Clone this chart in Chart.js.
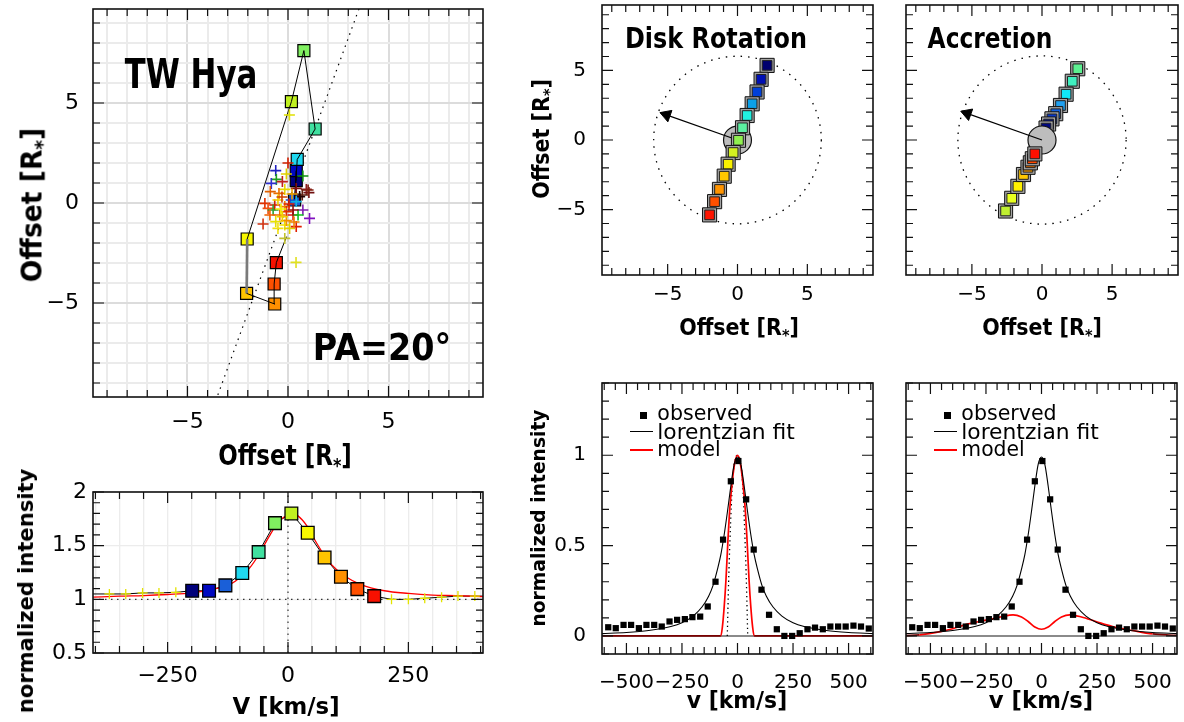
<!DOCTYPE html>
<html>
<head>
<meta charset="utf-8">
<title>TW Hya photocentre offsets</title>
<script src="https://cdn.jsdelivr.net/npm/chart.js@4.4.1/dist/chart.umd.min.js"></script>
<style>
  html, body { margin: 0; padding: 0; background: #fff; }
  body { width: 1184px; height: 722px; position: relative; overflow: hidden; font-family: "DejaVu Sans", sans-serif; }
  .pane { position: absolute; }
  .pane canvas { display: block; }
  .txt { position: absolute; white-space: nowrap; line-height: 1; color: #000; }
  .sb { font-size: 0.7em; position: relative; top: 0.35em; }
  .mk { position: absolute; }
</style>
</head>
<body>
<script>
// TW Hya: photocentre offsets [R*], squares in velocity order
const twSqX = [0.41, 0.41, 0.33, 0.46, 1.35, 0.79, 0.17, -2.03, -2.06, -0.66, -0.69, -0.58];
const twSqY = [1.12, 1.62, 0.15, 2.18, 3.70, 7.62, 5.07, -1.80, -4.52, -5.05, -4.05, -2.98];
const twSqColors = ['#00007a', '#0008c0', '#1a5fd8', '#20d8f0', '#40e0a0', '#80f060', '#c0f020', '#f8f800', '#ffc400', '#ff9000', '#ff5000', '#f81000'];
const twTailX = [-0.07];
const twTailY = [-1.68];
const twCrossX = [0.00, -0.61, -0.08, -0.58, -0.83, -0.28, -0.88, -0.16, 0.41, 0.91, 1.04, 0.71, 0.58, -0.45, -1.15, -0.99, -0.66, -0.50, 0.16, 0.41, -0.16, 0.05, 0.74, 1.07, -1.24, -0.61, -0.41, 0.25, 0.50, -0.16, 0.08, 0.41, -0.50, -0.08, -0.16, -0.08, -0.28, -0.74, 0.25, 0.07, 0.40, 0.74, 1.00, -0.30, 0.20, -0.90, -0.35, 0.30];
const twCrossY = [2.00, 1.62, 1.45, 1.18, 0.98, 1.07, 0.57, 0.68, 0.73, 0.68, 0.52, 0.40, 0.32, 0.48, -0.02, -0.27, -0.10, 0.15, 0.15, 0.07, -0.18, -0.05, -0.35, -0.77, -1.05, -0.93, -0.60, -0.60, -0.60, -1.10, -1.27, -1.18, -1.27, -0.88, -1.77, -0.43, -0.68, -0.35, -0.35, 4.40, -2.97, 1.35, 0.65, 0.30, 0.45, -0.60, -0.30, -0.95];
const twCrossColors = ['#d02000', '#2020c0', '#e0d000', '#20a020', '#3030d0', '#c02020', '#e06000', '#e8d800', '#801010', '#902020', '#701010', '#602010', '#200000', '#e87000', '#e03000', '#f05010', '#d02000', '#f0d000', '#1040d0', '#10b0e0', '#f08000', '#e02000', '#8020b0', '#8010c0', '#d03010', '#e8e000', '#f07000', '#e01010', '#10c020', '#f0e000', '#e0d000', '#e02000', '#f0e010', '#f09000', '#c0c030', '#e03000', '#f0d000', '#30a030', '#901010', '#e0e000', '#e0e020', '#109010', '#802010', '#d04000', '#f0a000', '#f06000', '#f0f000', '#f08000'];
const paLineX = [-3.6, 3.6];
const paLineY = [-9.9, 9.9];

// TW Hya line profile
const p2SqV = [-199, -164, -130, -95, -61, -27, 7, 41, 76, 110, 144, 179];
const p2SqI = [1.08, 1.08, 1.13, 1.245, 1.44, 1.71, 1.80, 1.62, 1.39, 1.21, 1.095, 1.03];
const p2WingLV = [-371, -337, -302, -268, -233];
const p2WingLI = [1.05, 1.05, 1.06, 1.06, 1.065];
const p2WingRV = [215, 250, 284, 319, 353, 388];
const p2WingRI = [1.0, 1.0, 1.01, 1.02, 1.03, 1.03];
const p2EdgeV = [-405, 405];
const p2EdgeI = [1.05, 1.03];
const p2FitV = [-405, -350, -300, -250, -200, -150, -120, -100, -80, -60, -40, -20, 0, 8, 20, 40, 60, 80, 100, 120, 150, 200, 250, 300, 350, 405];
const p2FitI = [1.02, 1.03, 1.035, 1.045, 1.06, 1.10, 1.14, 1.20, 1.29, 1.42, 1.58, 1.72, 1.79, 1.80, 1.78, 1.68, 1.52, 1.38, 1.28, 1.21, 1.14, 1.08, 1.055, 1.04, 1.035, 1.025];
const p2RefHV = [-405, 405], p2RefHI = [1, 1];
const p2RefVV = [0, 0], p2RefVI = [0.5, 2];

// models: disk rotation and accretion offsets
const drX = [2.12, 1.69, 1.40, 1.05, 0.69, 0.36, 0.07, -0.31, -0.67, -0.95, -1.29, -1.64, -2.00];
const drY = [5.36, 4.36, 3.45, 2.60, 1.76, 0.88, -0.02, -0.90, -1.74, -2.60, -3.55, -4.43, -5.38];
const drColors = ['#00006e', '#0010b4', '#0040d8', '#0ca0e8', '#20f0e0', '#5cf0a0', '#90f050', '#d4f020', '#f8f000', '#ffc800', '#ff9400', '#ff5000', '#ff1400'];
const drArrowX = [0, -5.5];
const drArrowY = [0, 1.95];
const acBlueX = [2.55, 2.16, 1.72, 1.32, 0.98, 0.71, 0.47, 0.29];
const acBlueY = [5.12, 4.22, 3.29, 2.48, 1.89, 1.52, 1.15, 0.86];
const acBlueColors = ['#5cf090', '#40f0c0', '#10e8f8', '#20a0f0', '#1060e0', '#0838c8', '#0018a8', '#000880'];
const acRedX = [-2.60, -2.16, -1.72, -1.32, -1.00, -0.83, -0.69, -0.51];
const acRedY = [-5.10, -4.19, -3.33, -2.48, -1.96, -1.64, -1.35, -1.00];
const acRedColors = ['#c0f030', '#e8ff20', '#fff000', '#ffc800', '#ffa000', '#ff7800', '#ff4800', '#ff1000'];
const acArrowX = [0, -5.75];
const acArrowY = [0, 2.05];
const ringR = 6;   // dotted circle [R*]
const starR = 1;   // stellar disk [R*]

// observed profile, lorentzian fit and models
const obsV = [-582, -548, -513, -479, -444, -410, -375, -341, -306, -272, -237, -203, -168, -134, -99, -65, -30, 4, 39, 73, 108, 142, 177, 211, 246, 280, 315, 349, 384, 418, 453, 487, 522, 556, 591];
const obsI = [0.048, 0.043, 0.061, 0.061, 0.043, 0.061, 0.061, 0.052, 0.080, 0.089, 0.093, 0.104, 0.107, 0.163, 0.300, 0.533, 0.856, 0.968, 0.756, 0.478, 0.256, 0.117, 0.037, 0.000, 0.000, 0.015, 0.037, 0.046, 0.037, 0.052, 0.052, 0.052, 0.057, 0.052, 0.041];
const fitV = [-610, -500, -400, -300, -250, -200, -160, -130, -110, -90, -75, -60, -45, -30, -15, 0, 15, 30, 45, 60, 75, 90, 110, 130, 160, 200, 250, 300, 400, 500, 610];
const fitI = [0.013, 0.019, 0.03, 0.052, 0.073, 0.11, 0.16, 0.22, 0.28, 0.37, 0.45, 0.56, 0.69, 0.83, 0.95, 0.99, 0.95, 0.83, 0.69, 0.56, 0.45, 0.37, 0.28, 0.22, 0.16, 0.11, 0.073, 0.052, 0.03, 0.019, 0.013];
const modelDiskV = [-610, -75, -68, -60, -52, -43, -35, -24, -12, 0, 12, 24, 35, 43, 52, 60, 68, 75, 610];
const modelDiskI = [0, 0, 0.05, 0.16, 0.31, 0.53, 0.70, 0.85, 0.96, 1.0, 0.96, 0.85, 0.70, 0.53, 0.31, 0.16, 0.05, 0, 0];
const innerV = [-46, -40, -34, -28, -22, -15, -8, 0, 8, 15, 22, 28, 34, 40, 46];
const innerI = [0, 0.3, 0.53, 0.72, 0.86, 0.95, 0.99, 1.0, 0.99, 0.95, 0.86, 0.72, 0.53, 0.3, 0];
const modelAccV = [-610, -550, -455, -400, -335, -280, -230, -180, -128, -90, -60, -30, 0, 30, 60, 90, 127, 180, 245, 320, 410, 500, 610];
const modelAccI = [0.002, 0.006, 0.024, 0.040, 0.065, 0.080, 0.092, 0.106, 0.117, 0.105, 0.080, 0.050, 0.037, 0.050, 0.080, 0.105, 0.117, 0.105, 0.080, 0.052, 0.030, 0.011, 0.003];
const zeroV = [-610, 610], zeroI = [0, 0];

Chart.defaults.font.family = 'DejaVu Sans';

const PL = 90, PT = 30, PR = 30, PB = 60;
const pts = (xs, ys) => xs.map((x, i) => ({x, y: ys[i]}));
const isMult = (v, m) => Math.abs(v / m - Math.round(v / m)) < 1e-6;
const fmt = v => String(+v.toFixed(3)).replace('-', '\u2212');

function lineDs(xs, ys, color, width, extra) {
  return Object.assign({data: pts(xs, ys), showLine: true, pointRadius: 0, pointHoverRadius: 0,
    borderColor: color, borderWidth: width, fill: false}, extra || {});
}
function markDs(xs, ys, style, radius, fill, stroke, bw) {
  return {data: pts(xs, ys), showLine: false, pointStyle: style, pointRadius: radius, pointHoverRadius: radius,
    pointBackgroundColor: fill, pointBorderColor: stroke, pointBorderWidth: bw, borderColor: stroke};
}
// framed squares of the model panels, drawn one after the other
function framedSquares(xs, ys, colors) {
  const out = [];
  xs.forEach((x, i) => {
    out.push(markDs([x], [ys[i]], 'rect', 10, '#a4a4a4', '#111', 1));
    out.push(markDs([x], [ys[i]], 'rect', 6.8, colors[i], '#222', 1));
  });
  return out;
}
function starDs() {
  return {data: [{x: 0, y: 0}], showLine: false, pointStyle: 'circle',
    pointRadius: c => c.chart.scales.x.getPixelForValue(starR) - c.chart.scales.x.getPixelForValue(0),
    pointBackgroundColor: '#bdbdbd', pointBorderColor: '#111', pointBorderWidth: 1.2};
}
function arrowDs(ax, ay) {
  const dx = ax[1] - ax[0], dy = ay[1] - ay[0], len = Math.hypot(dx, dy);
  const rot = Math.atan2(-dy, dx) * 180 / Math.PI + 90;
  const hx = ax[1] - dx / len * 0.45, hy = ay[1] - dy / len * 0.45;
  return [
    lineDs(ax, ay, '#000', 1.3),
    {data: [{x: hx, y: hy}], showLine: false, pointStyle: 'triangle', pointRadius: 7, pointRotation: rot,
      pointBackgroundColor: '#000', pointBorderColor: '#000', pointBorderWidth: 1}
  ];
}

function axis(side, min, max, step, every, size, pad, grid) {
  return {
    type: 'linear', min, max,
    border: {display: false},
    grid: grid ? {color: grid.color, lineWidth: grid.width, drawTicks: false} : {display: false, drawTicks: false},
    ticks: {autoSkip: false, maxRotation: 0, minRotation: 0,
      padding: pad, color: '#000', display: size > 0, font: {size: size || 12},
      callback: v => isMult(v, every) ? fmt(v) : ''},
    // one tick per step, aligned on multiples of the step
    afterBuildTicks: s => {
      const t = [];
      for (let i = Math.ceil(min / step - 1e-9); i * step <= max + 1e-9; i++) t.push({value: +(i * step).toFixed(6)});
      s.ticks = t;
    },
    afterFit: side === 'x' ? s => { s.height = PB; } : s => { s.width = PL; }
  };
}

const framePlugin = {
  id: 'frame',
  afterDatasetsDraw(chart, args, o) {
    const {ctx, chartArea: a} = chart;
    const sx = chart.scales.x, sy = chart.scales.y;
    ctx.save();
    ctx.strokeStyle = '#111';
    ctx.lineWidth = 1.2;
    ctx.beginPath();
    for (let i = Math.ceil(sx.min / o.xMinor - 1e-9); i * o.xMinor <= sx.max + 1e-9; i++) {
      const v = i * o.xMinor, p = sx.getPixelForValue(v), L = isMult(v, o.xMajor) ? 11 : 7;
      ctx.moveTo(p, a.bottom); ctx.lineTo(p, a.bottom - L);
      ctx.moveTo(p, a.top); ctx.lineTo(p, a.top + L);
    }
    for (let i = Math.ceil(sy.min / o.yMinor - 1e-9); i * o.yMinor <= sy.max + 1e-9; i++) {
      const v = i * o.yMinor, p = sy.getPixelForValue(v), L = isMult(v, o.yMajor) ? 11 : 7;
      ctx.moveTo(a.left, p); ctx.lineTo(a.left + L, p);
      ctx.moveTo(a.right, p); ctx.lineTo(a.right - L, p);
    }
    ctx.stroke();
    ctx.lineWidth = 1.6;
    ctx.strokeRect(a.left, a.top, a.right - a.left, a.bottom - a.top);
    ctx.restore();
  }
};

const ringPlugin = {
  id: 'ring',
  beforeDatasetsDraw(chart, args, o) {
    if (!o.r) return;
    const ctx = chart.ctx, sx = chart.scales.x, sy = chart.scales.y;
    const cx = sx.getPixelForValue(0), cy = sy.getPixelForValue(0);
    const rp = sx.getPixelForValue(o.r) - cx;
    ctx.save();
    ctx.setLineDash([1.5, 6]);
    ctx.lineWidth = 1.3;
    ctx.strokeStyle = '#000';
    ctx.beginPath();
    ctx.arc(cx, cy, rp, 0, 2 * Math.PI);
    ctx.stroke();
    ctx.restore();
  }
};

// box = chart area [left, top, right, bottom] in page pixels; layers listed bottom -> top
function panel(box, xAxis, yAxis, layers, frame, ring) {
  const div = document.createElement('div');
  div.className = 'pane';
  div.style.left = (box[0] - PL) + 'px';
  div.style.top = (box[1] - PT) + 'px';
  div.style.width = (box[2] - box[0] + PL + PR) + 'px';
  div.style.height = (box[3] - box[1] + PT + PB) + 'px';
  const cv = document.createElement('canvas');
  div.appendChild(cv);
  document.body.appendChild(div);
  return new Chart(cv, {
    type: 'scatter',
    data: {datasets: layers.slice().reverse()},
    options: {
      responsive: true, maintainAspectRatio: false, animation: false, devicePixelRatio: 1,
      layout: {padding: {left: 0, top: PT, right: PR, bottom: 0}},
      plugins: {legend: {display: false}, tooltip: {enabled: false}, frame: frame, ring: {r: ring || 0}},
      scales: {x: xAxis, y: yAxis}
    },
    plugins: [ringPlugin, framePlugin]
  });
}

// --- TW Hya offsets
panel([93, 9, 483, 397],
  axis('x', -9.7, 9.7, 1, 5, 22, 12, {color: c => isMult(c.tick.value, 5) ? '#dcdcdc' : '#ebebeb', width: 2}),
  axis('y', -9.7, 9.7, 1, 5, 22, 14, {color: c => isMult(c.tick.value, 5) ? '#dcdcdc' : '#ebebeb', width: 2}),
  [
    lineDs(paLineX, paLineY, '#000', 1.2, {borderDash: [1.5, 5]}),
    markDs(twSqX, twSqY, 'rect', 8.5, twSqColors, '#000', 1.2),
    lineDs(twSqX.concat(twTailX), twSqY.concat(twTailY), '#000', 1, {segment: {
      borderColor: c => c.p0DataIndex === 7 ? '#7a7a7a' : '#000',
      borderWidth: c => c.p0DataIndex === 7 ? 2.6 : 1}}),
    markDs(twCrossX, twCrossY, 'cross', 5.5, twCrossColors, twCrossColors, 1.6)
  ],
  {xMinor: 1, xMajor: 5, yMinor: 1, yMajor: 5});

// --- TW Hya profile
panel([93, 492, 483, 653],
  axis('x', -405, 405, 50, 250, 22, 10, {color: '#ececec', width: 1.3}),
  axis('y', 0.5, 2, 0.1, 0.5, 22, 6, {color: c => isMult(c.tick.value, 0.5) ? '#ececec' : 'rgba(0,0,0,0)', width: 1.3}),
  [
    lineDs(p2RefHV, p2RefHI, '#333', 1.2, {borderDash: [1.5, 4.5]}),
    lineDs(p2RefVV, p2RefVI, '#333', 1.2, {borderDash: [1.5, 4.5]}),
    lineDs([p2EdgeV[0]].concat(p2WingLV, p2SqV, p2WingRV, [p2EdgeV[1]]),
           [p2EdgeI[0]].concat(p2WingLI, p2SqI, p2WingRI, [p2EdgeI[1]]), '#000', 1),
    lineDs(p2FitV, p2FitI, '#ff0000', 1.3, {cubicInterpolationMode: 'monotone'}),
    markDs(p2WingLV.concat(p2WingRV), p2WingLI.concat(p2WingRI), 'cross', 5, '#e4e400', '#e4e400', 1.3),
    markDs(p2SqV, p2SqI, 'rect', 9, twSqColors, '#000', 1.3)
  ],
  {xMinor: 50, xMajor: 250, yMinor: 0.1, yMajor: 0.5});

// --- Disk rotation
panel([602, 5, 873, 275],
  axis('x', -9.7, 9.7, 5, 5, 20, 8),
  axis('y', -9.7, 9.7, 5, 5, 20, 16),
  [starDs()].concat(arrowDs(drArrowX, drArrowY), framedSquares(drX, drY, drColors)),
  {xMinor: 1, xMajor: 5, yMinor: 1, yMajor: 5}, ringR);

// --- Accretion
panel([906, 5, 1178, 275],
  axis('x', -9.7, 9.7, 5, 5, 20, 8),
  axis('y', -9.7, 9.7, 5, 5, 0, 16),
  framedSquares(acBlueX, acBlueY, acBlueColors).concat([starDs()], arrowDs(acArrowX, acArrowY),
    framedSquares(acRedX, acRedY, acRedColors)),
  {xMinor: 1, xMajor: 5, yMinor: 1, yMajor: 5}, ringR);

const maroon = lim => ({borderColor: c => (c.p0.parsed.y < lim && c.p1.parsed.y < lim) ? '#7a0000' : '#ff0000'});

// --- Disk rotation profile
panel([602, 383, 873, 654],
  axis('x', -610, 610, 250, 250, 20, 17),
  axis('y', -0.1, 1.4, 0.5, 0.5, 20, 16),
  [
    lineDs(zeroV, zeroI, '#8a8a8a', 2),
    lineDs(innerV, innerI, '#000', 1.3, {borderDash: [1.3, 3.2], cubicInterpolationMode: 'monotone'}),
    lineDs(modelDiskV, modelDiskI, '#ff0000', 1.7, {cubicInterpolationMode: 'monotone', segment: maroon(0.001)}),
    lineDs(fitV, fitI, '#000', 1.1, {cubicInterpolationMode: 'monotone'}),
    markDs(obsV, obsI, 'rect', 4.4, '#000', '#000', 0)
  ],
  {xMinor: 50, xMajor: 250, yMinor: 0.1, yMajor: 0.5});

// --- Accretion profile
panel([906, 383, 1177, 654],
  axis('x', -610, 610, 250, 250, 20, 17),
  axis('y', -0.1, 1.4, 0.5, 0.5, 0, 16),
  [
    lineDs(zeroV, zeroI, '#8a8a8a', 2),
    lineDs(modelAccV, modelAccI, '#ff0000', 1.7, {cubicInterpolationMode: 'monotone', segment: maroon(0.012)}),
    lineDs(fitV, fitI, '#000', 1.1, {cubicInterpolationMode: 'monotone'}),
    markDs(obsV, obsI, 'rect', 4.4, '#000', '#000', 0)
  ],
  {xMinor: 50, xMajor: 250, yMinor: 0.1, yMajor: 0.5});

// --- text, sized to the reference
function text(html, cx, cy, width, size, bold, rot) {
  const el = document.createElement('div');
  el.className = 'txt';
  el.innerHTML = html;
  el.style.fontSize = size + 'px';
  el.style.fontWeight = bold ? 'bold' : 'normal';
  el.style.left = cx + 'px';
  el.style.top = cy + 'px';
  document.body.appendChild(el);
  const s = width / el.offsetWidth;
  el.style.transform = 'translate(-50%,-50%)' + (rot ? ' rotate(-90deg)' : '') + ' scaleX(' + s.toFixed(3) + ')';
}
function mark(l, t, w, h, color) {
  const d = document.createElement('div');
  d.className = 'mk';
  d.style.cssText += ';left:' + l + 'px;top:' + t + 'px;width:' + w + 'px;height:' + h + 'px;background:' + color;
  document.body.appendChild(d);
}

const offR = 'Offset [R<span class="sb">*</span>]';
text('TW Hya', 191, 74, 133, 40, true);
text('PA=20\u00b0', 382, 347, 138, 37, true);
text(offR, 285, 455, 134, 29, true);
text(offR, 32, 205, 155, 29, true, true);
text('normalized intensity', 26, 591, 244, 22, true, true);
text('V [km/s]', 286, 706, 107, 23, true);
text('Disk Rotation', 716, 39, 182, 28, true);
text(offR, 739, 327, 120, 23, true);
text(offR, 541, 139, 120, 23, true, true);
text('Accretion', 990, 39, 125, 28, true);
text(offR, 1042, 327, 120, 23, true);
text('normalized intensity', 538, 518, 217, 20, true, true);
text('v [km/s]', 737, 700, 100, 23, true);
text('v [km/s]', 1041, 700, 104, 23, true);

[602, 906].forEach(l0 => {
  const tx = l0 + 55;
  mark(l0 + 37.5, 411.5, 7, 7, '#000');
  mark(l0 + 28, 431, 23, 1.2, '#000');
  mark(l0 + 28, 449.3, 23, 1.5, '#ff0000');
  text('observed', tx + 47.5, 413, 95, 21);
  text('lorentzian fit', tx + 69, 432, 138, 21);
  text('model', tx + 31.5, 449, 63, 21);
});
</script>
</body>
</html>
